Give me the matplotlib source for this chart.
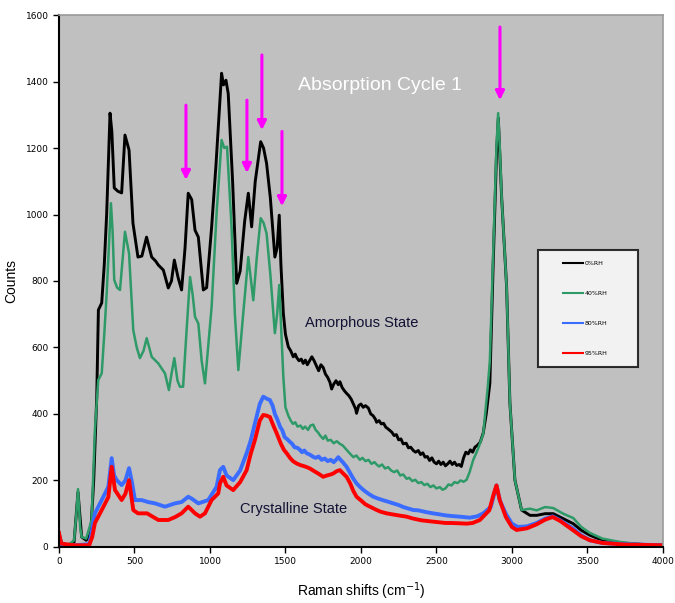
import matplotlib
matplotlib.use('Agg')
import matplotlib.pyplot as plt
from matplotlib.lines import Line2D
from matplotlib.legend_handler import HandlerLine2D

# Raman spectra, values
x_0rh = [0, 20, 60, 100, 126, 150, 180, 210, 230, 250, 261, 283, 300, 316, 338, 350, 366, 390, 415, 437,
         464, 490, 523, 549, 580, 614, 640, 658, 691, 724, 745, 764, 788, 812, 835, 856, 879, 901, 923, 956,
         978, 1011, 1040, 1060, 1077, 1090, 1106, 1121, 1150, 1177, 1200, 1230, 1254, 1276, 1300, 1336, 1355,
         1375, 1400, 1430, 1445, 1459, 1470, 1486, 1500, 1519, 1535, 1552, 1565, 1574, 1590, 1605, 1618, 1632,
         1645, 1660, 1675, 1690, 1705, 1720, 1735, 1750, 1765, 1780, 1795, 1806, 1820, 1835, 1850, 1861, 1875,
         1890, 1905, 1920, 1935, 1950, 1965, 1971, 1985, 2000, 2015, 2030, 2049, 2065, 2080, 2095, 2104, 2120,
         2135, 2150, 2165, 2180, 2192, 2205, 2220, 2235, 2250, 2265, 2280, 2300, 2315, 2330, 2347, 2362, 2380,
         2395, 2410, 2425, 2440, 2455, 2470, 2485, 2501, 2515, 2530, 2545, 2560, 2575, 2590, 2605, 2620, 2635,
         2650, 2665, 2680, 2695, 2710, 2725, 2740, 2755, 2770, 2790, 2810, 2830, 2854, 2876, 2898, 2910, 2932,
         2965, 2987, 3020, 3064, 3120, 3164, 3220, 3274, 3340, 3406, 3460, 3517, 3600, 3715, 3850, 4000]
y_0rh = [40, 5, 5, 15, 165, 30, 20, 40, 200, 451, 713, 734, 850, 1004, 1305, 1250, 1080, 1070, 1065, 1239,
         1194, 974, 872, 875, 932, 872, 860, 848, 833, 779, 800, 863, 812, 773, 900, 1064, 1045, 953, 932, 773,
         780, 962, 1150, 1300, 1425, 1390, 1404, 1364, 1100, 793, 830, 980, 1064, 963, 1100, 1219, 1200,
         1154, 1050, 872, 900, 998, 850, 703, 640, 602, 590, 572, 580, 570, 560, 565, 552, 562,
         548, 560, 572, 560, 545, 530, 548, 540, 520, 510, 495, 475, 490, 500, 488, 497, 480,
         470, 462, 455, 445, 430, 415, 402, 425, 430, 420, 425, 418, 400, 395, 385, 375, 380,
         370, 372, 360, 355, 350, 345, 335, 338, 322, 325, 310, 312, 298, 300, 290, 285, 290,
         278, 283, 270, 272, 260, 268, 255, 250, 258, 248, 255, 244, 250, 258, 248, 255, 245,
         248, 242, 268, 285, 280, 292, 285, 300, 305, 315, 342, 400, 492, 850, 1180, 1290, 1053,
         783, 432, 201, 111, 95, 95, 100, 100, 85, 70, 50, 35, 20, 12, 8, 5]

x_40rh = [0, 20, 60, 100, 115, 126, 140, 150, 180, 216, 238, 260, 283, 300, 316, 344, 355, 366, 385, 404,
          437, 464, 492, 515, 536, 560, 581, 614, 658, 702, 728, 745, 764, 785, 801, 822, 845, 868, 885, 901,
          923, 945, 967, 1011, 1044, 1077, 1095, 1113, 1143, 1165, 1188, 1220, 1254, 1287, 1310, 1336, 1355,
          1375, 1400, 1430, 1445, 1459, 1486, 1500, 1519, 1535, 1550, 1565, 1580, 1600, 1615, 1630, 1650, 1665,
          1684, 1700, 1715, 1730, 1750, 1765, 1780, 1800, 1820, 1840, 1861, 1880, 1905, 1925, 1950, 1970, 1993,
          2010, 2030, 2050, 2070, 2090, 2104, 2120, 2140, 2160, 2180, 2200, 2220, 2240, 2260, 2280, 2303, 2320,
          2340, 2360, 2380, 2400, 2420, 2440, 2460, 2480, 2500, 2523, 2540, 2560, 2580, 2600, 2620, 2640, 2660,
          2680, 2700, 2720, 2744, 2760, 2780, 2810, 2840, 2854, 2876, 2898, 2909, 2920, 2932, 2965, 2987, 3020,
          3064, 3120, 3164, 3220, 3274, 3340, 3406, 3460, 3517, 3600, 3715, 3850, 4000]
y_40rh = [45, 5, 5, 20, 100, 174, 60, 30, 25, 81, 352, 502, 522, 640, 764, 1034, 950, 803, 780, 773,
          948, 883, 652, 600, 568, 590, 628, 572, 552, 522, 472, 520, 568, 500, 482, 482, 650, 812, 760, 692,
          672, 560, 492, 722, 1004, 1224, 1200, 1204, 963, 700, 532, 700, 872, 742, 870, 989, 975,
          943, 820, 643, 700, 788, 512, 420, 395, 380, 370, 375, 362, 365, 355, 362, 352, 365,
          368, 352, 345, 335, 325, 335, 320, 322, 312, 318, 310, 305, 292, 282, 270, 275, 262,
          268, 258, 262, 250, 255, 248, 242, 248, 236, 240, 230, 225, 230, 215, 218, 205, 208,
          198, 202, 192, 195, 186, 190, 180, 185, 176, 180, 172, 176, 188, 185, 195, 192, 200,
          196, 202, 225, 262, 278, 300, 340, 480, 560, 880, 1205, 1305, 1200, 1053, 783, 432, 201,
          111, 115, 110, 120, 117, 100, 87, 60, 42, 25, 15, 8, 5]

x_80rh = [0, 20, 100, 200, 215, 238, 283, 327, 349, 365, 382, 415, 440, 464, 485, 503, 547, 590, 636, 702,
          768, 812, 856, 880, 923, 989, 1044, 1066, 1088, 1110, 1154, 1200, 1243, 1270, 1298, 1330, 1353, 1380,
          1397, 1415, 1430, 1445, 1464, 1480, 1495, 1510, 1530, 1545, 1560, 1580, 1596, 1610, 1625, 1640, 1660,
          1684, 1700, 1720, 1740, 1760, 1780, 1800, 1820, 1835, 1850, 1865, 1880, 1905, 1925, 1950, 1971, 1995,
          2020, 2050, 2082, 2110, 2150, 2180, 2214, 2250, 2280, 2310, 2347, 2380, 2400, 2440, 2478, 2520, 2560,
          2600, 2656, 2720, 2770, 2810, 2860, 2898, 2920, 2960, 3000, 3040, 3100, 3164, 3220, 3270, 3320, 3406,
          3460, 3517, 3600, 3750, 4000]
y_80rh = [30, 5, 5, 8, 40, 101, 141, 181, 267, 215, 201, 186, 200, 237, 190, 141, 141, 135, 131, 121,
          131, 135, 151, 145, 131, 141, 181, 231, 241, 215, 201, 230, 282, 320, 372, 430, 452, 445,
          442, 425, 400, 385, 362, 350, 330, 325, 316, 310, 300, 298, 292, 285, 290, 282, 278,
          271, 268, 272, 262, 266, 258, 262, 255, 262, 270, 262, 255, 241, 225, 205, 191, 180,
          170, 160, 151, 146, 140, 136, 131, 126, 120, 116, 111, 110, 108, 104, 101, 98, 95,
          93, 91, 88, 92, 101, 120, 185, 140, 100, 70, 60, 62, 72, 85, 92, 80, 55,
          35, 20, 12, 8, 5]

x_95rh = [0, 15, 100, 200, 220, 238, 283, 327, 349, 371, 415, 440, 464, 492, 523, 583, 658, 724, 770, 812,
          856, 901, 934, 967, 1011, 1055, 1066, 1088, 1110, 1154, 1200, 1243, 1270, 1298, 1330, 1353, 1375,
          1397, 1420, 1442, 1470, 1490, 1508, 1530, 1550, 1574, 1600, 1630, 1662, 1690, 1720, 1750, 1775, 1800,
          1817, 1840, 1861, 1880, 1905, 1930, 1950, 1971, 2000, 2030, 2060, 2100, 2130, 2170, 2220, 2260, 2303,
          2340, 2400, 2440, 2478, 2520, 2560, 2600, 2656, 2700, 2740, 2788, 2850, 2880, 2898, 2920, 2960, 3000,
          3031, 3100, 3164, 3220, 3270, 3320, 3406, 3460, 3517, 3600, 3750, 4000]
y_95rh = [42, 10, 5, 5, 30, 72, 111, 150, 241, 171, 141, 160, 201, 111, 101, 101, 81, 81, 90, 101,
          121, 101, 91, 101, 141, 161, 191, 211, 185, 171, 195, 231, 280, 322, 380, 397, 395,
          391, 365, 342, 310, 292, 282, 268, 258, 251, 246, 242, 236, 228, 220, 211, 215, 218,
          221, 228, 231, 222, 211, 190, 168, 151, 140, 128, 121, 112, 106, 101, 97, 94, 91,
          86, 80, 78, 76, 74, 72, 72, 71, 70, 72, 81, 110, 160, 185, 140, 90, 60,
          51, 56, 68, 82, 90, 78, 50, 32, 20, 12, 7, 5]

series = [
    (x_0rh, y_0rh, '0%RH', 'black', 2.1),
    (x_40rh, y_40rh, '40%RH', '#2e9a68', 1.8),
    (x_80rh, y_80rh, '80%RH', '#3a6cff', 2.8),
    (x_95rh, y_95rh, '95%RH', '#ff0000', 2.8),
]

# arrow positions: x, top, tip
arrow_x = [841, 1245, 1344, 1477, 2921]
arrow_top = [1329, 1344, 1480, 1250, 1564]
arrow_tip = [1104, 1125, 1254, 1025, 1344]

fig = plt.figure(figsize=(6.75, 6.03), dpi=100)
ax = fig.add_axes([0.0874, 0.093, 0.8946, 0.882])
ax.set_facecolor('#c0c0c0')

for xs, ys, lab, col, lw in series:
    ax.plot(xs, ys, color=col, lw=lw, label=lab)

for xa, yt, yb in zip(arrow_x, arrow_top, arrow_tip):
    ax.annotate('', xy=(xa, yb), xytext=(xa, yt),
                arrowprops=dict(arrowstyle='-|>', color='#ff00ff', lw=2.2,
                                mutation_scale=13, shrinkA=0, shrinkB=0))

fam = ['Liberation Sans', 'DejaVu Sans']
ax.text(2126, 1389, 'Absorption Cycle 1', color='white', fontsize=14,
        family=fam, ha='center', va='center')
ax.text(2007, 674, 'Amorphous State', color='#111133', fontsize=10.5,
        family=fam, ha='center', va='center')
ax.text(1556, 114, 'Crystalline State', color='#111133', fontsize=10.5,
        family=fam, ha='center', va='center')

ax.set_xlim(0, 4000)
ax.set_ylim(0, 1600)
ax.set_xticks(range(0, 4001, 500))
ax.set_yticks(range(0, 1601, 200))
ax.tick_params(labelsize=6.5, length=4, width=1, direction='out')
for s in ['left', 'bottom']:
    ax.spines[s].set_linewidth(1.5)
    ax.spines[s].set_color('black')
for s in ['top', 'right']:
    ax.spines[s].set_color('#9a9a9a')
    ax.spines[s].set_linewidth(1.2)

ax.set_xlabel('Raman shifts (cm$^{-1}$)', fontsize=10, family=fam, labelpad=10)
ax.set_ylabel('Counts', fontsize=10, family=fam)
ax.yaxis.set_label_coords(-0.068, 0.5)

# legend box sized like the reference (px 538-638 x 250-366), handles pushed right
leg = ax.legend(loc='upper left', bbox_to_anchor=(0.793, 0.34, 0.166, 0.218),
                mode='expand', fontsize=4.5, frameon=True, fancybox=False,
                labelspacing=3.95, handlelength=5.5, borderpad=1.7,
                borderaxespad=0, handletextpad=0.3,
                handler_map={Line2D: HandlerLine2D(xpad=2.4)})
leg.get_frame().set_edgecolor('black')
leg.get_frame().set_linewidth(1.5)
for h in leg.get_lines():
    h.set_linewidth(1.5)

plt.savefig('out.png', dpi=100)
